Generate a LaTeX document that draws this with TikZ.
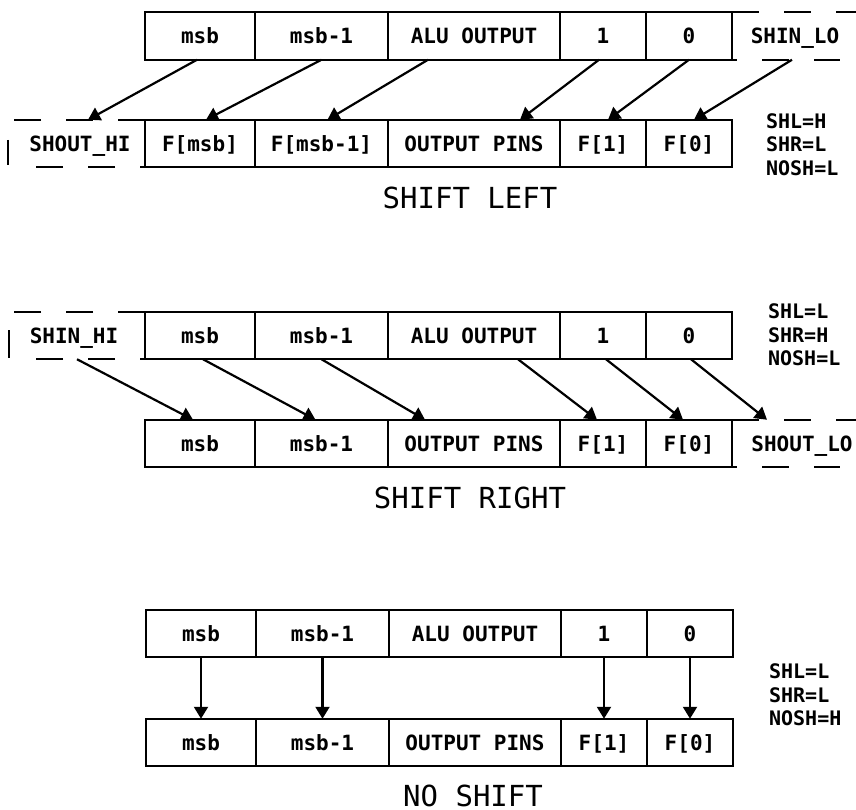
\documentclass[tikz,border=0pt]{standalone}
\usepackage{fontspec}
\setmonofont{DejaVu Sans Mono}
\usetikzlibrary{arrows.meta}

\begin{document}
\begin{tikzpicture}[x=1pt, y=-1pt, line width=2.2pt,
    bit/.style={draw, rectangle, minimum height=47.5pt, inner sep=0pt, outer sep=0pt,
      text height=15.3pt, text depth=0pt, font=\ttfamily\bfseries\fontsize{21}{25}\selectfont},
    pad/.style={bit, draw=none},
    dashA/.style={dash pattern=on 27pt off 25pt},
    dashB/.style={dash pattern=on 27pt off 25pt, dash phase=22pt},
    move/.style={-{Triangle[length=12pt,width=14pt]}},
    caption/.style={inner sep=0pt, font=\ttfamily\fontsize{29}{34}\selectfont},
    flags/.style={anchor=west, align=left, inner sep=0pt, font=\ttfamily\bfseries\fontsize{20}{23.5}\selectfont}]
    \useasboundingbox (0,0) rectangle (856,810);

    % shift left
    \foreach \n/\x/\w/\a/\f in {msb/145/110/msb/F[msb], msbi/255/133/msb-1/F[msb-1],
        alu/388/172/ALU OUTPUT/OUTPUT PINS, one/560/86/1/F[1], zero/646/86/0/F[0]} {
        \node[bit, minimum width=\w pt, anchor=west] (la-\n) at (\x,36) {\a};
        \node[bit, minimum width=\w pt, anchor=west] (lf-\n) at (\x,143.5) {\f};
    }
    \node[pad] (la-lo) at (795,36) {SHIN\_LO};
    \node[pad] (lf-hi) at (80,143.5) {SHOUT\_HI};
    \draw[dashA] (la-zero.north east) -- ++(124,0);
    \draw[dashB] (la-zero.south east) -- ++(108,0);
    \draw[dashA] (lf-msb.north west) -- ++(-133,0);
    \draw[dashB] (lf-msb.south west) -- ++(-112,0);
    \draw (8,140) -- (8,165);

    \draw[move] ([xshift=-3pt]la-msb.south) -- ([xshift=8pt]lf-hi.north);
    \draw[move] (la-msbi.south) -- ([xshift=6pt]lf-msb.north);
    \draw[move] ([xshift=-46pt]la-alu.south) -- ([xshift=6pt]lf-msbi.north);
    \draw[move] ([xshift=-4pt]la-one.south) -- ([xshift=46pt]lf-alu.north);
    \draw[move] (la-zero.south) -- ([xshift=5pt]lf-one.north);
    \draw[move] ([xshift=-3pt]la-lo.south) -- ([xshift=5pt]lf-zero.north);

    \node[flags] (lflags) at (765,144.5) {SHL=H\\SHR=L\\NOSH=L};
    \node[caption] (ltitle) at (470,197.5) {SHIFT LEFT};

    % shift right
    \foreach \n/\x/\w/\a/\f in {msb/145/110/msb/msb, msbi/255/133/msb-1/msb-1,
        alu/388/172/ALU OUTPUT/OUTPUT PINS, one/560/86/1/F[1], zero/646/86/0/F[0]} {
        \node[bit, minimum width=\w pt, anchor=west] (ra-\n) at (\x,335.5) {\a};
        \node[bit, minimum width=\w pt, anchor=west] (rf-\n) at (\x,443.5) {\f};
    }
    \node[pad] (ra-hi) at (74,335.5) {SHIN\_HI};
    \node[pad] (rf-lo) at (802,443.5) {SHOUT\_LO};
    \draw[dashA] (ra-msb.north west) -- ++(-131,0);
    \draw[dashB] (ra-msb.south west) -- ++(-110,0);
    \draw (9,330) -- (9,358);
    \draw[dashA] (rf-zero.north east) -- ++(124,0);
    \draw[dashB] (rf-zero.south east) -- ++(108,0);

    \draw[move] ([xshift=3pt]ra-hi.south) -- ([xshift=-7pt]rf-msb.north);
    \draw[move] ([xshift=3pt]ra-msb.south) -- ([xshift=-6pt]rf-msbi.north);
    \draw[move] (ra-msbi.south) -- ([xshift=-49pt]rf-alu.north);
    \draw[move] ([xshift=44pt]ra-alu.south) -- ([xshift=-6pt]rf-one.north);
    \draw[move] ([xshift=3pt]ra-one.south) -- ([xshift=-6pt]rf-zero.north);
    \draw[move] ([xshift=2pt]ra-zero.south) -- ([xshift=-35pt]rf-lo.north);

    \node[flags] (rflags) at (767,335) {SHL=L\\SHR=H\\NOSH=L};
    \node[caption] (rtitle) at (470,498) {SHIFT RIGHT};

    % no shift
    \foreach \n/\x/\w/\a/\f in {msb/146/110/msb/msb, msbi/256/133/msb-1/msb-1,
        alu/389/172/ALU OUTPUT/OUTPUT PINS, one/561/86/1/F[1], zero/647/86/0/F[0]} {
        \node[bit, minimum width=\w pt, anchor=west] (na-\n) at (\x,633.5) {\a};
        \node[bit, minimum width=\w pt, anchor=west] (nf-\n) at (\x,742.5) {\f};
    }
    \foreach \n in {msb, msbi, one, zero}
        \draw[move] (na-\n.south) -- (nf-\n.north);

    \node[flags] (nflags) at (768,695) {SHL=L\\SHR=L\\NOSH=H};
    \node[caption] (ntitle) at (473,795.5) {NO SHIFT};
\end{tikzpicture}
\end{document}
